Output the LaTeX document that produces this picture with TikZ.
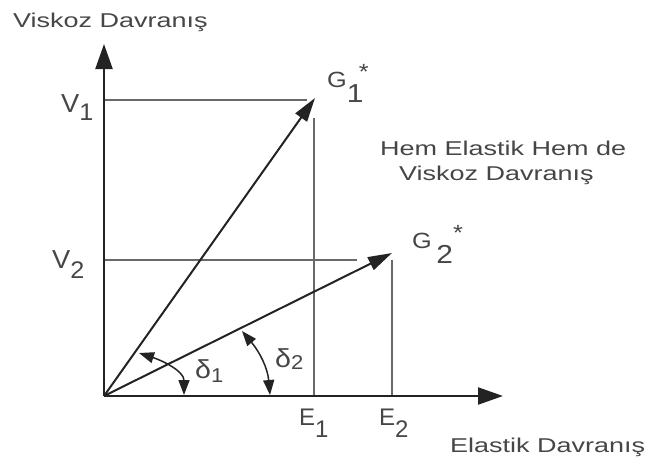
\documentclass[tikz,border=0pt]{standalone}
\usepackage{fontspec}
\setmainfont{Liberation Sans}
\usepackage{graphicx}
\usetikzlibrary{arrows.meta,positioning}

\definecolor{txtgray}{RGB}{70,70,70}
\definecolor{axgray}{RGB}{35,35,35}
\definecolor{lngray}{RGB}{105,105,105}

% stretched text, the labels of the figure are wide
\newcommand{\wide}[2]{\scalebox{#1}[1]{#2}}
\newcommand{\fs}[1]{\fontsize{#1}{#1}\selectfont}

\begin{document}
\begin{tikzpicture}[x=1pt,y=1pt,
  lbl/.style={inner sep=0pt,anchor=base west,text=txtgray,font=\fs{20}},
  axis/.style={line width=2.2pt,draw=axgray,-{Triangle[length=25pt,width=17pt]}},
  vec/.style={line width=2pt,draw=axgray,-{Triangle[length=24pt,width=14pt]}},
  guide/.style={line width=1.4pt,draw=lngray},
  ang/.style={line width=1.5pt,draw=axgray,{Triangle[length=15pt,width=11pt]}-{Triangle[length=15pt,width=11pt]}}]
\useasboundingbox (0,0) rectangle (649,-464);

% Points
\coordinate (O) at (104,-396);
\coordinate (ytip) at (104,-44);
\coordinate (xtip) at (503,-396);
\coordinate (g1) at (315,-98);
\coordinate (g2) at (392,-253);

% Guide lines
\coordinate (v1a) at (104,-100);
\coordinate (v1b) at (307,-100);
\coordinate (e1a) at (314,-118);
\coordinate (e1b) at (314,-396);
\coordinate (v2a) at (104,-260);
\coordinate (v2b) at (357,-260);
\coordinate (e2a) at (392,-260);
\coordinate (e2b) at (392,-396);
\draw[guide] (v1a) -- (v1b);
\draw[guide] (e1a) -- (e1b);
\draw[guide] (v2a) -- (v2b);
\draw[guide] (e2a) -- (e2b);

% Axes
\draw[axis] (O) -- (ytip);
\draw[axis] (O) -- (xtip);

% Vectors
\draw[vec] (O) -- (g1);
\draw[vec] (O) -- (g2);

% Angles
\coordinate (d1a) at (139,-353);
\coordinate (d1b) at (184,-395);
\coordinate (d2a) at (242,-331);
\coordinate (d2b) at (270,-395);
\draw[ang] (d1a) to[out=-18,in=90] (d1b);
\draw[ang] (d2a) to[out=-50,in=95] (d2b);

% Axis titles
\node[lbl] (ytitle) at (13,-27) {\wide{1.35}{Viskoz Davranış}};
\node[lbl] (xtitle) at (450,-452) {\wide{1.35}{Elastik Davranış}};
\node[lbl] (both1) at (380,-155) {\wide{1.35}{Hem Elastik Hem de}};
\node[lbl] (both2) at (399,-180) {\wide{1.35}{Viskoz Davranış}};

% Point labels
\node[lbl,font=\fs{26}] (v1l) at (61,-112) {\wide{1.05}{V\raisebox{-8pt}{\fs{24}1}}};
\node[lbl,font=\fs{26}] (v2l) at (52,-268) {\wide{1.05}{V\raisebox{-10pt}{\fs{24}2}}};
\node[lbl,font=\fs{22}] (g1l) at (327,-87) {\wide{1.15}{G\raisebox{-15pt}{\fs{26}1}\hspace{-4pt}\raisebox{8pt}{*}}};
\node[lbl,font=\fs{22}] (g2l) at (412,-248) {\wide{1.15}{G\hspace{4pt}\raisebox{-15pt}{\fs{26}2}\raisebox{8pt}{*}}};
\node[lbl,font=\fs{24}] (e1l) at (299,-425) {\wide{1.0}{E\raisebox{-12pt}{1}}};
\node[lbl,font=\fs{24}] (e2l) at (379,-425) {\wide{1.0}{E\raisebox{-12pt}{2}}};
\node[lbl,font=\fs{26}] (d1l) at (195,-378) {\wide{1.1}{δ\raisebox{-4pt}{\fs{20}1}}};
\node[lbl,font=\fs{26}] (d2l) at (275,-367) {\wide{1.1}{δ\raisebox{-2pt}{\fs{20}2}}};
\end{tikzpicture}
\end{document}
